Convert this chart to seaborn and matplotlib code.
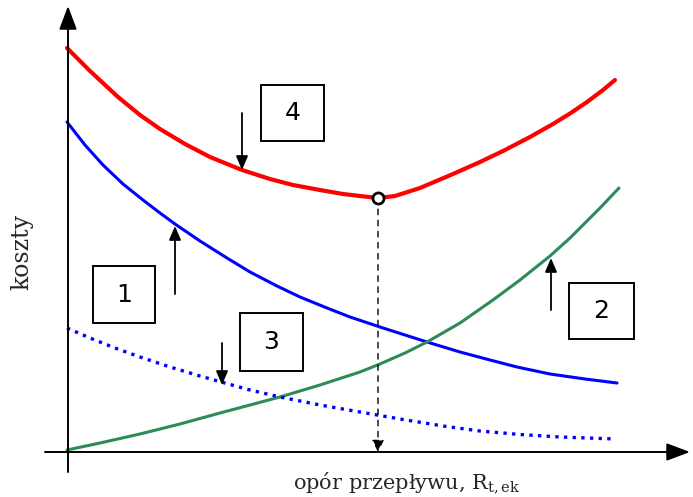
import matplotlib
matplotlib.use("Agg")
import matplotlib.pyplot as plt
import seaborn as sns
import pandas as pd

sns.set_theme(style="white")
plt.rcParams["font.family"] = ["DejaVu Serif"]

# Cost curves in drawing units (x to the right, y measured downward from top)
x_total = [67, 90, 118, 140, 160, 185, 210, 242, 270, 293, 320, 343, 360, 378,
           395, 420, 453, 480, 503, 530, 553, 570, 587, 603, 615]
y_total = [48, 71, 97, 115, 129, 144, 157, 170, 179, 185, 190, 194, 196, 198,
           196, 188, 174, 162, 151, 137, 124, 113.5, 102, 90, 80]

x_fixed = [67, 85, 103, 123, 143, 160, 175, 200, 227, 250, 277, 300, 327, 350, 380,
           405, 427, 460, 490, 517, 550, 585, 617]
y_fixed = [122, 145, 165, 184, 200, 213, 224, 241, 258, 272, 286, 297, 308, 317, 327,
           335, 342, 352, 360, 367, 374, 379, 383]

x_energy = [67, 100, 140, 180, 220, 250, 280, 320, 360, 380, 405, 427, 460, 493, 520,
            550, 570, 600, 619]
y_energy = [450, 443, 434, 424, 413, 405, 397, 385, 372, 364, 353, 342, 323, 300, 280,
            256, 238, 208, 188]

x_other = [67, 90, 115, 140, 170, 200, 223, 250, 280, 320, 360, 400, 443, 480, 520,
           560, 615]
y_other = [328, 338, 348, 357, 367, 376, 382.5, 390, 397, 405, 412, 419, 426, 431, 434.5,
           437, 439]

# Optimum point on the total cost curve
x_opt = 378
y_opt = 198

box_labels = ["4", "1", "3", "2"]
box_x0 = [261, 93, 240, 569]
box_y0 = [85, 266, 313, 283]
box_x1 = [324, 155, 303, 634]
box_y1 = [141, 323, 371, 339]

# Pointer arrows: tail at (x, tail y), tip at (x, tip y)
arrow_x = [242, 175, 222, 551]
arrow_tail_y = [113, 294, 343, 310]
arrow_tip_y = [170, 226, 385, 258]

fig = plt.figure(figsize=(6.93, 4.97), dpi=100)
ax = fig.add_axes([0, 0, 1, 1])
ax.set_xlim(0, 693)
ax.set_ylim(497, 0)
ax.set_axis_off()

sns.lineplot(data=pd.DataFrame({"x": x_total, "y": y_total}), x="x", y="y",
             color="#ff0000", lw=3.0, sort=False, ax=ax)
sns.lineplot(data=pd.DataFrame({"x": x_fixed, "y": y_fixed}), x="x", y="y",
             color="#0000ff", lw=2.2, sort=False, ax=ax)
sns.lineplot(data=pd.DataFrame({"x": x_energy, "y": y_energy}), x="x", y="y",
             color="#2e8b57", lw=2.2, sort=False, ax=ax)
sns.lineplot(data=pd.DataFrame({"x": x_other, "y": y_other}), x="x", y="y",
             color="#0000ff", lw=2.4, sort=False, ax=ax, linestyle=(0, (1.0, 1.6)))

# Axes drawn as arrows
ax.annotate("", xy=(68, 6), xytext=(68, 472),
            arrowprops=dict(arrowstyle="-|>,head_length=1.2,head_width=0.45",
                            color="black", lw=1.4, shrinkA=0, shrinkB=0))
ax.annotate("", xy=(690, 452), xytext=(45, 452),
            arrowprops=dict(arrowstyle="-|>,head_length=1.2,head_width=0.45",
                            color="black", lw=1.4, shrinkA=0, shrinkB=0))

# Dashed drop line from the optimum to the x axis
ax.annotate("", xy=(x_opt, 452), xytext=(x_opt, y_opt),
            arrowprops=dict(arrowstyle="-|>,head_length=0.6,head_width=0.3",
                            color="black", lw=1.0, linestyle=(0, (4, 4)),
                            shrinkA=0, shrinkB=0))
ax.plot([x_opt], [y_opt], marker="o", ms=8, mfc="white", mec="black", mew=2.0, zorder=5)

for lab, x0, y0, x1, y1 in zip(box_labels, box_x0, box_y0, box_x1, box_y1):
    ax.add_patch(plt.Rectangle((x0, y0), x1 - x0, y1 - y0, fill=False,
                               ec="black", lw=1.4, zorder=4))
    ax.text((x0 + x1) / 2, (y0 + y1) / 2, lab, ha="center", va="center",
            fontsize=18, family=["DejaVu Sans"], color="black")

for ax_x, ty, hy in zip(arrow_x, arrow_tail_y, arrow_tip_y):
    ax.annotate("", xy=(ax_x, hy), xytext=(ax_x, ty),
                arrowprops=dict(arrowstyle="-|>,head_length=0.7,head_width=0.3",
                                color="black", lw=1.3, shrinkA=0, shrinkB=0))

ax.text(22, 252, "koszty", rotation=90, ha="center", va="center", fontsize=17,
        family=["DejaVu Serif"])
ax.text(407, 483, r"opór przepływu, R$_{\mathregular{t,ek}}$", ha="center", va="center",
        fontsize=15, family=["DejaVu Serif"])

fig.savefig("out.png", dpi=100)
